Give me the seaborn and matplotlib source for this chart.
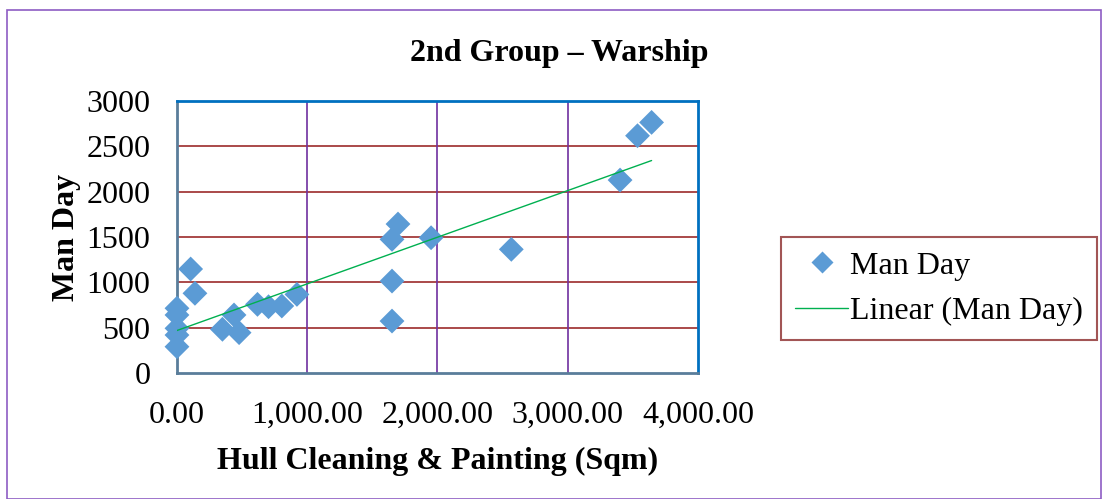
import numpy as np
import pandas as pd
import matplotlib
matplotlib.use("Agg")
import matplotlib.pyplot as plt
import seaborn as sns
from matplotlib.lines import Line2D
from matplotlib.patches import Rectangle
from matplotlib.ticker import FuncFormatter

# data
hull_sqm = [0, 0, 0, 0, 0, 105, 138, 349, 438, 477, 618, 703, 805, 921,
            1651, 1697, 1651, 1651, 1951, 2567, 3402, 3536, 3644]
man_day = [714, 640, 493, 419, 290, 1147, 879, 482, 640, 445, 757, 731, 739, 867,
           1474, 1643, 1014, 573, 1492, 1364, 2128, 2617, 2764]
x_ticks = [0, 1000, 2000, 3000, 4000]
y_ticks = [0, 500, 1000, 1500, 2000, 2500, 3000]

df = pd.DataFrame({"Hull": hull_sqm, "ManDay": man_day})

sns.set_style("white")
plt.rcParams["font.family"] = ["Liberation Serif", "DejaVu Serif"]
plt.rcParams["text.color"] = "black"
plt.rcParams["axes.labelcolor"] = "black"

fig = plt.figure(figsize=(11.04, 4.99), dpi=100)
ax = fig.add_axes([0.1603, 0.2525, 0.4719, 0.5451])

# outer chart border
fig.patches.append(Rectangle((7 / 1104, 0), 1094 / 1104, 489 / 499,
                             transform=fig.transFigure, fill=False,
                             edgecolor="#8E5CC4", linewidth=1.2))

sns.scatterplot(data=df, x="Hull", y="ManDay", marker="D", s=160,
                color="#5B9BD5", edgecolor="none", ax=ax, zorder=3,
                clip_on=False)
sns.regplot(data=df, x="Hull", y="ManDay", scatter=False, ci=None, ax=ax,
            line_kws={"color": "#00B050", "linewidth": 1.0, "zorder": 4})

ax.set_xlim(0, 4000)
ax.set_ylim(0, 3000)
ax.set_xticks(x_ticks)
ax.set_yticks(y_ticks)
ax.xaxis.set_major_formatter(FuncFormatter(lambda v, p: "{:,.2f}".format(v)))
ax.tick_params(axis="both", length=0, labelsize=23, colors="black")
ax.tick_params(axis="x", pad=20)
ax.tick_params(axis="y", pad=19)

for v in y_ticks[1:-1]:
    ax.axhline(v, color="#9C2B2B", linewidth=1.2, zorder=1)
for v in x_ticks[1:-1]:
    ax.axvline(v, color="#7030A0", linewidth=1.2, zorder=1)

ax.spines["top"].set_color("#0070C0")
ax.spines["right"].set_color("#0070C0")
ax.spines["left"].set_color("#5A7D9A")
ax.spines["bottom"].set_color("#5A7D9A")
for s in ax.spines.values():
    s.set_linewidth(2)
    s.set_visible(True)
    s.set_zorder(2)

ax.set_xlabel("Hull Cleaning & Painting (Sqm)", fontsize=23, fontweight="bold",
              labelpad=12)
ax.set_ylabel("Man Day", fontsize=23, fontweight="bold", labelpad=4)
fig.text(0.507, 0.892, "2nd Group \u2013 Warship", ha="center", va="center",
         fontsize=23, fontweight="bold")

handles = [
    Line2D([], [], marker="D", linestyle="none", color="#5B9BD5",
           markersize=11, markeredgecolor="none"),
    Line2D([], [], color="#00B050", linewidth=1.0),
]
leg = fig.legend(handles, ["Man Day", "Linear (Man Day)"],
                 loc="center", bbox_to_anchor=(0.8505, 0.4218),
                 fontsize=23, frameon=True, fancybox=False,
                 handlelength=1.65, handletextpad=0.05, borderpad=0.45,
                 labelspacing=0.5, borderaxespad=0)
leg.get_frame().set_edgecolor("#8B2B2B")
leg.get_frame().set_linewidth(1.5)

fig.savefig("out.png", dpi=100)
